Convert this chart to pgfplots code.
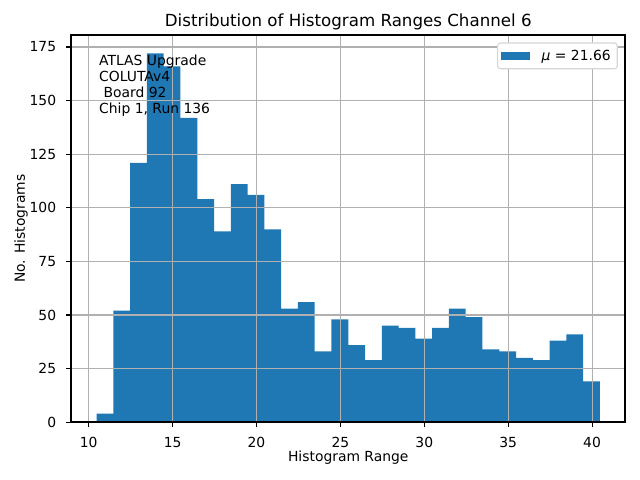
\documentclass[border=0pt]{standalone}
\usepackage{fontspec}
\setmainfont{DejaVu Sans}
\usepackage{pgfplots}
\pgfplotsset{compat=1.18}
\definecolor{barblue}{HTML}{1F77B4}
\definecolor{gridgray}{HTML}{B0B0B0}
\definecolor{legframe}{HTML}{D6D6D6}
\begin{document}
\begin{tikzpicture}
\begin{axis}[
  at={(0pt,0pt)}, anchor=south west,
  scale only axis, width=398.9pt, height=278.8pt,
  xmin=8.96, xmax=41.98, ymin=0, ymax=180.6,
  xtick={10,15,...,40}, ytick={0,25,...,175},
  xtick pos=bottom, ytick pos=left, tick align=outside, major tick length=3.5pt,
  tick style={black, line width=0.8pt},
  every axis/.append style={line width=0.8pt},
  axis line style={black, line width=0.8pt},
  every outer y axis line/.append style={line width=1.3pt},
  grid=major, major grid style={gridgray, line width=0.8pt},
  axis on top,
  /pgf/number format/assume math mode=true,
  ticklabel style={font=\fontsize{10}{12}\selectfont},
  xticklabel style={inner sep=0pt, anchor=north, yshift=-7pt},
  yticklabel style={inner sep=0pt, anchor=east, xshift=-7pt},
  legend style={at={(rel axis cs:1,1)}, anchor=north east, xshift=-5.4pt, yshift=-5.4pt,
    draw=legframe, line width=0.8pt, rounded corners=2pt, fill=white,
    font=\fontsize{10}{12}\selectfont, inner xsep=2.7pt, inner ysep=2.8pt,
    column sep=6.6pt, nodes={inner xsep=2pt, inner ysep=2pt}},
  legend cell align=left,
]
\addplot[fill=barblue, draw=none, const plot,
  legend image code/.code={\fill[barblue, sharp corners] (0pt,-3pt) rectangle (20.4pt,3pt);}]
coordinates {
(10.47,4) (11.47,52) (12.47,121) (13.47,172) (14.47,166) (15.47,142)
(16.47,104) (17.47,89) (18.47,111) (19.47,106) (20.47,90) (21.47,53)
(22.47,56) (23.47,33) (24.47,48) (25.47,36) (26.47,29) (27.47,45)
(28.47,44) (29.47,39) (30.47,44) (31.47,53) (32.47,49) (33.47,34)
(34.47,33) (35.47,30) (36.47,29) (37.47,38) (38.47,41) (39.47,19)
(40.47,19)
} \closedcycle;
\addlegendentry{{\itshape μ} = 21.66}
\end{axis}
\node[anchor=base, font=\fontsize{12}{14}\selectfont] at (199.45pt, 284.8pt) {Distribution of Histogram Ranges Channel 6};
\node[anchor=base, font=\fontsize{10}{12}\selectfont] at (199.45pt, -28pt) {Histogram Range};
\node[anchor=base, rotate=90, font=\fontsize{10}{12}\selectfont] at (-33.3pt, 139.4pt) {No. Histograms};
\begin{scope}[every node/.style={anchor=base west, inner sep=0pt, font=\fontsize{10}{12}\selectfont}]
\node at (19.95pt, 256.5pt) {ATLAS Upgrade};
\node at (19.95pt, 245.0pt) {COLUTAv4};
\node at (19.95pt, 233.5pt) {\ Board 92};
\node at (19.95pt, 222.0pt) {Chip 1, Run 136};
\end{scope}
\pgfresetboundingbox
\path[use as bounding box] (-51.3pt,-41.6pt) rectangle (409.5pt,304.0pt);
\end{tikzpicture}
\end{document}
